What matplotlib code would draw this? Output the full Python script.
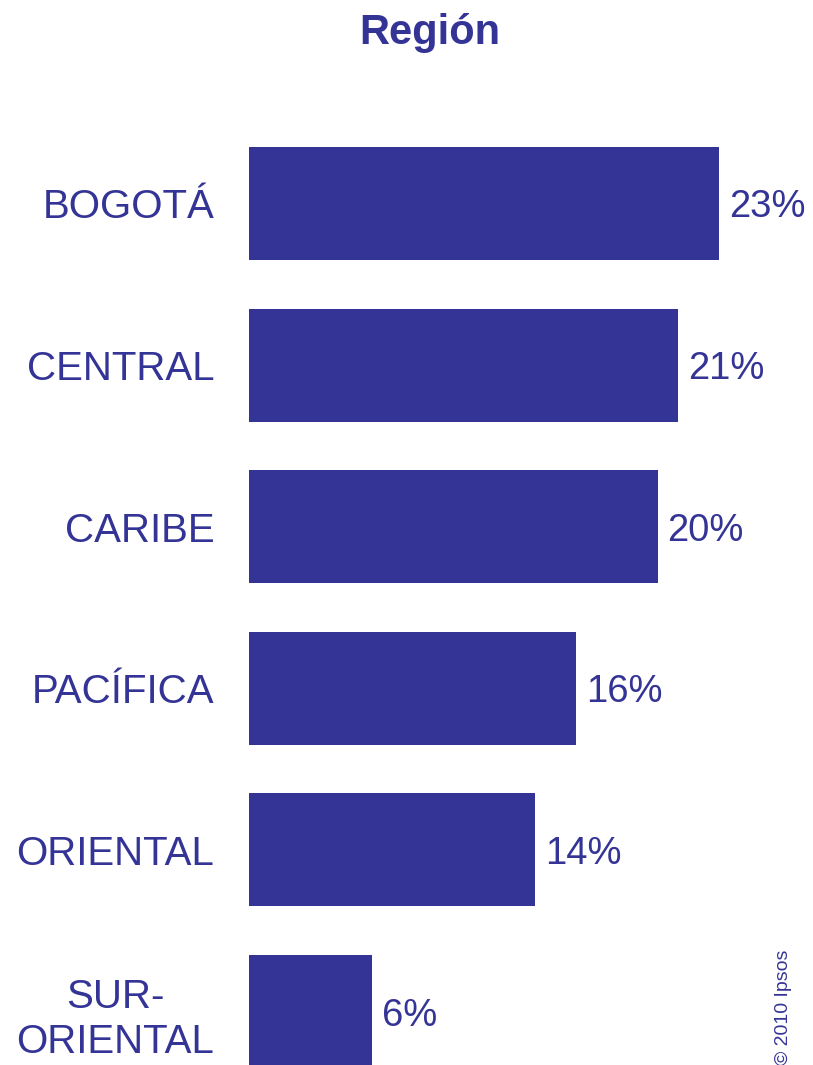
import matplotlib.pyplot as plt
import numpy as np

plt.rcParams['font.family'] = ['Liberation Sans', 'DejaVu Sans']

regions = ["BOGOTÁ", "CENTRAL", "CARIBE", "PACÍFICA", "ORIENTAL", "SUR-\nORIENTAL"]
values = [23, 21, 20, 16, 14, 6]
labels = ["23%", "21%", "20%", "16%", "14%", "6%"]

color = "#343496"
W, H = 813, 1065

fig = plt.figure(figsize=(W / 100, H / 100), dpi=100)
ax = fig.add_axes([249 / W, 0, 564 / W, 1])

y = np.arange(len(regions))
ax.barh(y, values, height=0.70, color=color)
ax.set_xlim(0, 564 / 20.43)
ax.set_ylim(5.331, -1.259)

ax.set_yticks(y, regions)
ax.tick_params(axis='y', length=0, pad=25, labelsize=29, labelcolor=color)
for t in ax.get_yticklabels():
    t.set_multialignment('center')
    t.set_linespacing(1.25)
ax.set_xticks([])
for s in ax.spines.values():
    s.set_visible(False)

for yi, v, lab in zip(y, values, labels):
    ax.annotate(lab, (v, yi), xytext=(10, 0), textcoords='offset pixels',
                ha='left', va='center_baseline', fontsize=27.5, color=color)

fig.text(430 / W, 1 - 33 / H, "Región", ha='center', va='center',
         fontsize=30, fontweight='bold', color=color)
fig.text(783 / W, 1 - 950 / H, "© 2010 Ipsos", rotation=90, ha='center', va='top',
         fontsize=14, color=color)

fig.savefig("out.png", dpi=100)
